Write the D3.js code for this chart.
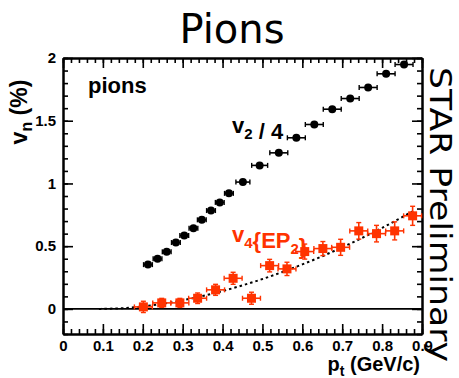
<!DOCTYPE html>
<html>
<head>
<meta charset="utf-8">
<script src="https://cdn.jsdelivr.net/npm/d3@7"></script>
<style>
  body { margin: 0; background: #fff; }
  svg { display: block; }
  .tick text { font-family: "Liberation Sans", Arial, sans-serif; font-weight: bold; font-size: 15px; fill: #000; }
</style>
</head>
<body>
<svg id="chart" width="459" height="378"></svg>
<script>
// Charged pion v2/4 (black circles)
const ptV2 = [0.213, 0.237, 0.260, 0.283, 0.304, 0.327, 0.348, 0.371, 0.393, 0.416,
              0.451, 0.493, 0.541, 0.585, 0.630, 0.675, 0.720, 0.765, 0.810, 0.855];
const v2Quarter = [0.353, 0.399, 0.455, 0.529, 0.585, 0.643, 0.710, 0.784, 0.849, 0.921,
                   1.011, 1.144, 1.244, 1.364, 1.470, 1.592, 1.677, 1.765, 1.874, 1.948];
const ptErrV2 = [0.011, 0.011, 0.011, 0.011, 0.011, 0.011, 0.011, 0.011, 0.011, 0.011,
                 0.0175, 0.02, 0.0225, 0.0225, 0.0225, 0.0225, 0.0225, 0.0225, 0.0225, 0.0225];

// Charged pion v4{EP2} (red squares)
const ptV4 = [0.2015, 0.2475, 0.293, 0.3375, 0.3825, 0.4265, 0.4725, 0.518,
              0.5615, 0.606, 0.6515, 0.696, 0.7415, 0.786, 0.8315, 0.8765];
const v4EP2 = [0.016, 0.048, 0.048, 0.085, 0.152, 0.244, 0.085, 0.345,
               0.319, 0.457, 0.481, 0.491, 0.622, 0.600, 0.622, 0.742];
const v4Err = [0.045, 0.036, 0.036, 0.042, 0.044, 0.048, 0.048, 0.050,
               0.053, 0.060, 0.056, 0.064, 0.066, 0.066, 0.072, 0.076];
const ptErrV4 = 0.0225;

// Dotted reference curve
const fitPt = [0.09, 0.10, 0.15, 0.20, 0.25, 0.30, 0.35, 0.40, 0.45,
               0.50, 0.55, 0.60, 0.65, 0.70, 0.75, 0.80, 0.85, 0.88];
const fitV4 = [0, 0.0005, 0.006, 0.020, 0.041, 0.069, 0.103, 0.142, 0.188,
               0.238, 0.294, 0.355, 0.420, 0.491, 0.566, 0.646, 0.731, 0.784];

// Axis ticks
const xMajor = [0, 0.1, 0.2, 0.3, 0.4, 0.5, 0.6, 0.7, 0.8, 0.9];
const xMinor = d3.range(0, 0.9001, 0.02);
const yMajor = [0, 0.5, 1, 1.5, 2];
const yMinor = d3.range(-0.2, 2.0001, 0.1);

const RED = "#ff3300";
const svg = d3.select("#chart");

const x = d3.scaleLinear().domain([0, 0.9]).range([63, 422]);
const y = d3.scaleLinear().domain([-0.2, 2]).range([334, 58]);

const frame = svg.append("g");

function styleAxis(g) {
  g.selectAll("path.domain").attr("stroke", "#000").attr("stroke-width", 2);
  g.selectAll(".tick line").attr("stroke", "#000").attr("stroke-width", 1.6);
}

// Bottom axis with labels
frame.append("g").attr("transform", `translate(0,${y.range()[0]})`)
  .call(d3.axisBottom(x).tickValues(xMinor).tickSize(-5).tickFormat("").tickSizeOuter(0))
  .call(styleAxis);
frame.append("g").attr("transform", `translate(0,${y.range()[0]})`)
  .call(d3.axisBottom(x).tickValues(xMajor).tickSize(-10).tickSizeOuter(0).tickPadding(6)
        .tickFormat(d3.format("~g")))
  .call(styleAxis);

// Top axis, ticks only
frame.append("g").attr("transform", `translate(0,${y.range()[1]})`)
  .call(d3.axisTop(x).tickValues(xMinor).tickSize(-5).tickFormat("").tickSizeOuter(0))
  .call(styleAxis);
frame.append("g").attr("transform", `translate(0,${y.range()[1]})`)
  .call(d3.axisTop(x).tickValues(xMajor).tickSize(-10).tickFormat("").tickSizeOuter(0))
  .call(styleAxis);

// Left axis with labels
frame.append("g").attr("transform", `translate(${x.range()[0]},0)`)
  .call(d3.axisLeft(y).tickValues(yMinor).tickSize(-5).tickFormat("").tickSizeOuter(0))
  .call(styleAxis);
frame.append("g").attr("transform", `translate(${x.range()[0]},0)`)
  .call(d3.axisLeft(y).tickValues(yMajor).tickSize(-10).tickSizeOuter(0).tickPadding(7)
        .tickFormat(d3.format("~g")))
  .call(styleAxis);

// Right axis, ticks only
frame.append("g").attr("transform", `translate(${x.range()[1]},0)`)
  .call(d3.axisRight(y).tickValues(yMinor).tickSize(-5).tickFormat("").tickSizeOuter(0))
  .call(styleAxis);
frame.append("g").attr("transform", `translate(${x.range()[1]},0)`)
  .call(d3.axisRight(y).tickValues(yMajor).tickSize(-10).tickFormat("").tickSizeOuter(0))
  .call(styleAxis);

// Zero line
svg.append("line")
  .attr("x1", x(0)).attr("x2", x(0.9))
  .attr("y1", y(0)).attr("y2", y(0))
  .attr("stroke", "#000").attr("stroke-width", 1.6);

// Dotted curve
const fitData = fitPt.map((p, i) => [p, fitV4[i]]);
svg.append("path")
  .datum(fitData)
  .attr("fill", "none")
  .attr("stroke", "#000")
  .attr("stroke-width", 2)
  .attr("stroke-dasharray", "2.5,3")
  .attr("d", d3.line().x(d => x(d[0])).y(d => y(d[1])).curve(d3.curveMonotoneX));

// v2/4 points
const v2Data = ptV2.map((p, i) => ({ pt: p, v: v2Quarter[i], ex: ptErrV2[i] }));
const gV2 = svg.append("g");
gV2.selectAll("line.ex").data(v2Data).join("line")
  .attr("x1", d => x(d.pt - d.ex)).attr("x2", d => x(d.pt + d.ex))
  .attr("y1", d => y(d.v)).attr("y2", d => y(d.v))
  .attr("stroke", "#000").attr("stroke-width", 1.6);
gV2.selectAll("line.capl").data(v2Data).join("line")
  .attr("x1", d => x(d.pt - d.ex)).attr("x2", d => x(d.pt - d.ex))
  .attr("y1", d => y(d.v) - 2.5).attr("y2", d => y(d.v) + 2.5)
  .attr("stroke", "#000").attr("stroke-width", 1.4);
gV2.selectAll("line.capr").data(v2Data).join("line")
  .attr("x1", d => x(d.pt + d.ex)).attr("x2", d => x(d.pt + d.ex))
  .attr("y1", d => y(d.v) - 2.5).attr("y2", d => y(d.v) + 2.5)
  .attr("stroke", "#000").attr("stroke-width", 1.4);
gV2.selectAll("circle").data(v2Data).join("circle")
  .attr("cx", d => x(d.pt)).attr("cy", d => y(d.v)).attr("r", 4)
  .attr("fill", "#000");

// v4{EP2} points
const v4Data = ptV4.map((p, i) => ({ pt: p, v: v4EP2[i], ey: v4Err[i], ex: ptErrV4 }));
const gV4 = svg.append("g").attr("stroke", RED);
gV4.selectAll("line.ex").data(v4Data).join("line")
  .attr("x1", d => x(d.pt - d.ex)).attr("x2", d => x(d.pt + d.ex))
  .attr("y1", d => y(d.v)).attr("y2", d => y(d.v))
  .attr("stroke-width", 1.6);
gV4.selectAll("line.ey").data(v4Data).join("line")
  .attr("x1", d => x(d.pt)).attr("x2", d => x(d.pt))
  .attr("y1", d => y(d.v - d.ey)).attr("y2", d => y(d.v + d.ey))
  .attr("stroke-width", 1.6);
// end caps
["l", "r"].forEach(s => {
  gV4.selectAll("line.cx" + s).data(v4Data).join("line")
    .attr("x1", d => x(d.pt + (s === "l" ? -d.ex : d.ex)))
    .attr("x2", d => x(d.pt + (s === "l" ? -d.ex : d.ex)))
    .attr("y1", d => y(d.v) - 2.5).attr("y2", d => y(d.v) + 2.5)
    .attr("stroke-width", 1.4);
});
["t", "b"].forEach(s => {
  gV4.selectAll("line.cy" + s).data(v4Data).join("line")
    .attr("x1", d => x(d.pt) - 2.5).attr("x2", d => x(d.pt) + 2.5)
    .attr("y1", d => y(d.v + (s === "t" ? d.ey : -d.ey)))
    .attr("y2", d => y(d.v + (s === "t" ? d.ey : -d.ey)))
    .attr("stroke-width", 1.4);
});
gV4.selectAll("rect").data(v4Data).join("rect")
  .attr("x", d => x(d.pt) - 4.5).attr("y", d => y(d.v) - 4.5)
  .attr("width", 9).attr("height", 9)
  .attr("fill", RED).attr("stroke", "none");

// Text
const helv = "'Liberation Sans', Arial, sans-serif";
const sans = "'DejaVu Sans', Verdana, sans-serif";

svg.append("text")
  .attr("x", 232).attr("y", 43)
  .attr("text-anchor", "middle")
  .attr("font-family", sans).attr("font-size", 40)
  .text("Pions");

svg.append("text")
  .attr("x", 88).attr("y", 93)
  .attr("font-family", helv).attr("font-weight", "bold").attr("font-size", 22)
  .text("pions");

function subLabel(xp, yp, parts, color) {
  const t = svg.append("text").attr("x", xp).attr("y", yp)
    .attr("font-family", helv).attr("font-weight", "bold").attr("font-size", 22)
    .attr("fill", color);
  parts.forEach(([str, sub]) => {
    t.append("tspan")
      .attr("font-size", sub ? 15 : 22)
      .attr("dy", sub ? 6 : 0)
      .text(str);
    if (sub) t.append("tspan").attr("dy", -6).text("");
  });
  return t;
}

subLabel(232, 133, [["v", false], ["2", true], [" / 4", false]], "#000");
subLabel(232, 242, [["v", false], ["4", true], ["{EP", false], ["2", true], ["}", false]], RED);

// Axis titles
const yTitle = svg.append("text")
  .attr("transform", "translate(27,112) rotate(-90)")
  .attr("text-anchor", "middle")
  .attr("font-family", helv).attr("font-weight", "bold").attr("font-size", 23);
yTitle.append("tspan").text("v");
yTitle.append("tspan").attr("font-size", 16).attr("dy", 5).text("n");
yTitle.append("tspan").attr("dy", -5).text(" (%)");

const xTitle = svg.append("text")
  .attr("x", 420).attr("y", 371)
  .attr("text-anchor", "end")
  .attr("font-family", helv).attr("font-weight", "bold").attr("font-size", 20);
xTitle.append("tspan").text("p");
xTitle.append("tspan").attr("font-size", 14).attr("dy", 5).text("t");
xTitle.append("tspan").attr("dy", -5).text(" (GeV/c)");

svg.append("text")
  .attr("transform", "translate(430,67) rotate(90)")
  .attr("font-family", sans).attr("font-size", 30)
  .attr("textLength", 295).attr("lengthAdjust", "spacingAndGlyphs")
  .text("STAR Preliminary");
</script>
</body>
</html>
